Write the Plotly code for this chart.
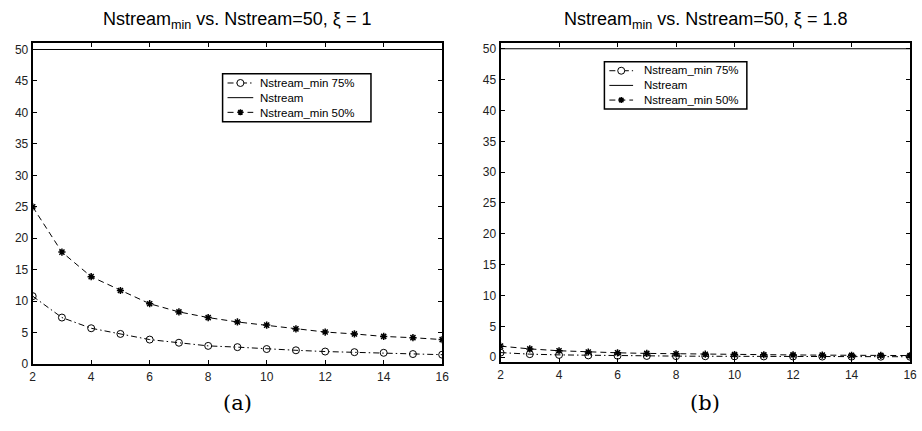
import plotly.graph_objects as go

# Number of streams on the x axis
n = [2, 3, 4, 5, 6, 7, 8, 9, 10, 11, 12, 13, 14, 15, 16]

# xi = 1
nmin75_a = [10.8, 7.4, 5.7, 4.8, 3.9, 3.4, 2.9, 2.7, 2.4, 2.2, 2.0, 1.9, 1.8, 1.6, 1.5]
nmin50_a = [25.0, 17.8, 13.9, 11.7, 9.6, 8.3, 7.4, 6.7, 6.2, 5.6, 5.1, 4.8, 4.4, 4.2, 3.9]

# xi = 1.8
nmin75_b = [0.75, 0.5, 0.38, 0.3, 0.25, 0.21, 0.18, 0.16, 0.14, 0.13, 0.12, 0.11, 0.10, 0.09, 0.08]
nmin50_b = [1.8, 1.35, 1.05, 0.85, 0.72, 0.62, 0.55, 0.49, 0.44, 0.40, 0.37, 0.34, 0.31, 0.29, 0.27]

nstream = [50] * len(n)

series_names = ["Nstream_min 75%", "Nstream", "Nstream_min 50%"]
titles = ["Nstream<sub>min</sub> vs. Nstream=50, \u03be = 1",
          "Nstream<sub>min</sub> vs. Nstream=50, \u03be = 1.8"]
panel_labels = ["(a)", "(b)"]
x_ticks = [2, 4, 6, 8, 10, 12, 14, 16]
y_ticks = [0, 5, 10, 15, 20, 25, 30, 35, 40, 45, 50]

W, H = 922, 431
SANS = "Arial, Liberation Sans, sans-serif"
DASH = "6px,4px"
DASHDOT = "6px,3px,1.5px,3px"
LEG_FONT = 11.5
LEG_STEP = LEG_FONT * 1.3  # line spacing of multi-line annotation text


def px(x):
    return x / W


def py(y):
    return 1 - y / H


fig = go.Figure()

panels = [
    ("x", "y", nmin75_a, nmin50_a),
    ("x2", "y2", nmin75_b, nmin50_b),
]
for xa, ya, s75, s50 in panels:
    fig.add_trace(go.Scatter(
        x=n, y=s75, xaxis=xa, yaxis=ya, name=series_names[0],
        mode="lines+markers",
        line=dict(color="black", width=1, dash=DASHDOT),
        marker=dict(symbol="circle-open", size=7, color="black", line=dict(width=1)),
    ))
    fig.add_trace(go.Scatter(
        x=n, y=nstream, xaxis=xa, yaxis=ya, name=series_names[1],
        mode="lines", line=dict(color="black", width=1),
    ))
    fig.add_trace(go.Scatter(
        x=n, y=s50, xaxis=xa, yaxis=ya, name=series_names[2],
        mode="lines+markers",
        line=dict(color="black", width=1, dash=DASH),
        marker=dict(symbol="asterisk-open", size=6, color="black", line=dict(width=1.5)),
    ))

axis_common = dict(
    showline=True, linecolor="black", linewidth=2, mirror="ticks",
    ticks="inside", ticklen=4, tickcolor="black", tickwidth=1,
    showgrid=False, zeroline=False,
    tickfont=dict(family=SANS, size=12, color="#222"),
)

fig.update_layout(
    width=W, height=H,
    margin=dict(l=0, r=0, t=0, b=0),
    paper_bgcolor="white", plot_bgcolor="white",
    showlegend=False,
    xaxis=dict(domain=[px(30), px(444)], range=[2, 16], tickvals=x_ticks, anchor="y", **axis_common),
    yaxis=dict(domain=[py(370), py(43)], range=[0, 51], tickvals=y_ticks, anchor="x", **axis_common),
    xaxis2=dict(domain=[px(503), px(917)], range=[2, 16], tickvals=x_ticks, anchor="y2", **axis_common),
    yaxis2=dict(domain=[py(368), py(43)], range=[-0.8, 50.9], tickvals=y_ticks, anchor="x2", **axis_common),
)

# Boxed legends drawn in page coordinates (box, sample line, marker, label column)
legend_boxes = [
    dict(box=(222, 74, 372, 123), line=(227, 253), mark=240, text=258),
    dict(box=(608, 62, 752, 110), line=(613, 637), mark=625, text=646),
]
row_dash = [DASHDOT, "solid", DASH]

for lb in legend_boxes:
    x0, y0, x1, y1 = lb["box"]
    yc = (y0 + y1) / 2
    rows = [yc - LEG_STEP, yc, yc + LEG_STEP]
    fig.add_shape(type="rect", xref="paper", yref="paper",
                  x0=px(x0), y0=py(y1), x1=px(x1), y1=py(y0),
                  line=dict(color="black", width=1.5), fillcolor="white", layer="above")
    for i, ry in enumerate(rows):
        fig.add_shape(type="line", xref="paper", yref="paper",
                      x0=px(lb["line"][0]), y0=py(ry), x1=px(lb["line"][1]), y1=py(ry),
                      line=dict(color="black", width=1, dash=row_dash[i]), layer="above")
    fig.add_annotation(x=px(lb["text"]), y=py(yc), xref="paper", yref="paper",
                       text="<br>".join(series_names), align="left",
                       showarrow=False, xanchor="left", yanchor="middle",
                       font=dict(family=SANS, size=LEG_FONT, color="black"))
    # circle marker
    fig.add_shape(type="circle", xref="paper", yref="paper",
                  xsizemode="pixel", ysizemode="pixel",
                  xanchor=px(lb["mark"]), yanchor=py(rows[0]),
                  x0=-3.5, x1=3.5, y0=-3.5, y1=3.5,
                  line=dict(color="black", width=1), fillcolor="white", layer="above")
    # asterisk marker
    fig.add_shape(type="path", xref="paper", yref="paper",
                  xsizemode="pixel", ysizemode="pixel",
                  xanchor=px(lb["mark"]), yanchor=py(rows[2]),
                  path="M-3,0 L3,0 M0,-3 L0,3 M-2.2,-2.2 L2.2,2.2 M-2.2,2.2 L2.2,-2.2",
                  line=dict(color="black", width=1.5), layer="above")

centers = [px((30 + 444) / 2), px((503 + 917) / 2)]
for cx, title, lab in zip(centers, titles, panel_labels):
    fig.add_annotation(x=cx, y=py(20), xref="paper", yref="paper",
                       text=title, showarrow=False, xanchor="center", yanchor="middle",
                       font=dict(family=SANS, size=18, color="black"))
    fig.add_annotation(x=cx, y=py(410), xref="paper", yref="paper",
                       text=lab, showarrow=False, xanchor="center", yanchor="middle",
                       font=dict(family="DejaVu Serif, Liberation Serif, serif", size=21, color="black"))

fig.write_html("out.html")
